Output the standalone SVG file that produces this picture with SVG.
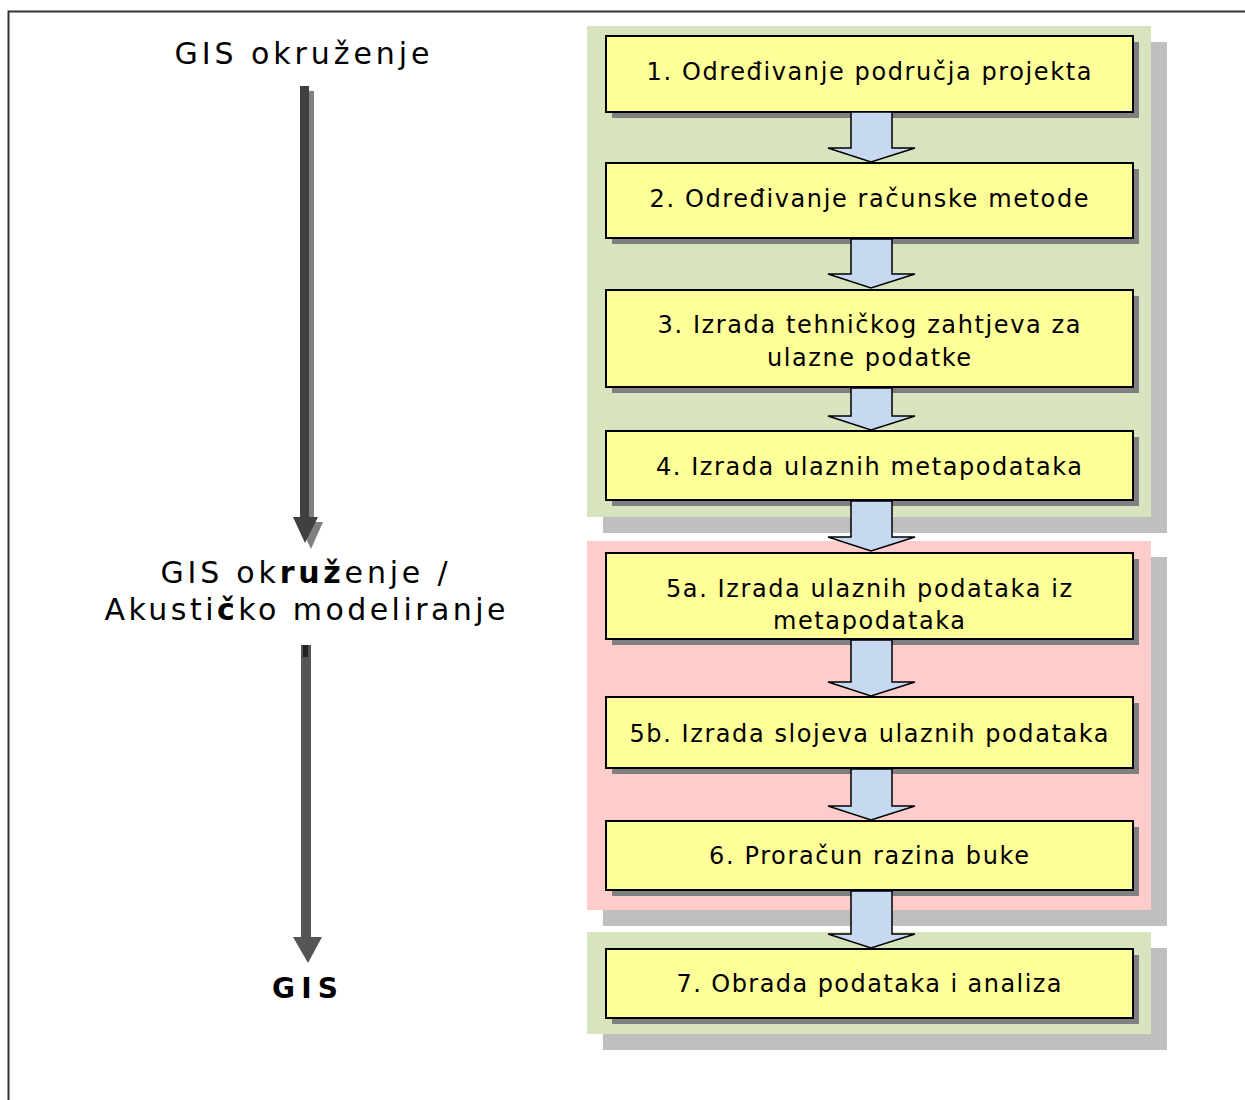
<svg xmlns="http://www.w3.org/2000/svg" width="1245" height="1100" viewBox="0 0 1245 1100">
<style>
.t{font-family:"DejaVu Sans","Verdana",sans-serif;font-size:24px;fill:#000;text-anchor:middle}
.l{font-family:"DejaVu Sans","Verdana",sans-serif;font-size:30px;fill:#000;text-anchor:middle}
.box{fill:#FFFF99;stroke:#000;stroke-width:2}
.bsh{fill:#808080}
.psh{fill:#BFBFBF}
.arr{fill:#C6D9F1;stroke:#000;stroke-width:1.5}
</style>
<rect width="1245" height="1100" fill="#fff"/>
<path d="M8.5 1100 V11.5 H1245" fill="none" stroke="#333" stroke-width="2"/>

<g id="left-labels">
<text class="l" x="302" y="64" textLength="255" lengthAdjust="spacing">GIS okruženje</text>
<text class="l" x="304" y="583" textLength="287" lengthAdjust="spacing">GIS ok<tspan font-weight="bold">ruž</tspan>enje /</text>
<text class="l" x="305" y="620" textLength="401" lengthAdjust="spacing">Akusti<tspan font-weight="bold">č</tspan>ko modeliranje</text>
<text x="305" y="998" font-family="DejaVu Sans,sans-serif" font-weight="bold" font-size="28" text-anchor="middle" textLength="66" lengthAdjust="spacing">GIS</text>
</g>

<g id="left-arrow-1">
<rect x="308" y="91" width="6" height="430" fill="#808080"/>
<polygon points="298,522 323,522 311,549" fill="#808080"/>
<rect x="300" y="86" width="9" height="432" fill="#404040"/>
<polygon points="293,517 318,517 305,543" fill="#404040"/>
</g>
<g id="left-arrow-2">
<rect x="301" y="645" width="10" height="295" fill="#555"/>
<rect x="303" y="645" width="5" height="12" fill="#222"/>
<polygon points="293,937 322,937 308,963" fill="#555"/>
</g>

<g id="panels">
<rect class="psh" x="603" y="42" width="564" height="491"/>
<rect x="587" y="26" width="564" height="491" fill="#D7E4BD"/>
<rect class="psh" x="603" y="557" width="564" height="369"/>
<rect x="587" y="541" width="564" height="369" fill="#FFCCCC"/>
<rect class="psh" x="603" y="948" width="564" height="102"/>
<rect x="587" y="932" width="564" height="102" fill="#D7E4BD"/>
</g>

<g id="node1"><rect class="bsh" x="612" y="42" width="527" height="76"/><rect class="box" x="606" y="36" width="527" height="76"/><text class="t" x="869" y="80" textLength="445" lengthAdjust="spacing">1. Određivanje područja projekta</text></g>
<g id="node2"><rect class="bsh" x="612" y="169" width="527" height="75"/><rect class="box" x="606" y="163" width="527" height="75"/><text class="t" x="869" y="207" textLength="439" lengthAdjust="spacing">2. Određivanje računske metode</text></g>
<g id="node3"><rect class="bsh" x="612" y="296" width="527" height="97"/><rect class="box" x="606" y="290" width="527" height="97"/><text class="t" x="869" y="333" textLength="423" lengthAdjust="spacing">3. Izrada tehničkog zahtjeva za</text><text class="t" x="869" y="366" textLength="204" lengthAdjust="spacing">ulazne podatke</text></g>
<g id="node4"><rect class="bsh" x="612" y="437" width="527" height="69"/><rect class="box" x="606" y="431" width="527" height="69"/><text class="t" x="869" y="475" textLength="426" lengthAdjust="spacing">4. Izrada ulaznih metapodataka</text></g>
<g id="node5a"><rect class="bsh" x="612" y="559" width="527" height="86"/><rect class="box" x="606" y="553" width="527" height="86"/><text class="t" x="869" y="597" textLength="406" lengthAdjust="spacing">5a. Izrada ulaznih podataka iz</text><text class="t" x="869" y="629" textLength="192" lengthAdjust="spacing">metapodataka</text></g>
<g id="node5b"><rect class="bsh" x="612" y="703" width="527" height="71"/><rect class="box" x="606" y="697" width="527" height="71"/><text class="t" x="869" y="742" textLength="479" lengthAdjust="spacing">5b. Izrada slojeva ulaznih podataka</text></g>
<g id="node6"><rect class="bsh" x="612" y="827" width="527" height="69"/><rect class="box" x="606" y="821" width="527" height="69"/><text class="t" x="869" y="864" textLength="320" lengthAdjust="spacing">6. Proračun razina buke</text></g>
<g id="node7"><rect class="bsh" x="612" y="955" width="527" height="69"/><rect class="box" x="606" y="949" width="527" height="69"/><text class="t" x="869" y="992" textLength="385" lengthAdjust="spacing">7. Obrada podataka i analiza</text></g>

<g id="connectors">
<polygon class="arr" points="851,112 892,112 892,148 915,148 871,162 828,148 851,148"/>
<polygon class="arr" points="851,239 892,239 892,274 915,274 871,288 828,274 851,274"/>
<polygon class="arr" points="851,388 892,388 892,416 915,416 871,430 828,416 851,416"/>
<polygon class="arr" points="851,501 892,501 892,537 915,537 871,551 828,537 851,537"/>
<polygon class="arr" points="851,640 892,640 892,682 915,682 871,696 828,682 851,682"/>
<polygon class="arr" points="851,769 892,769 892,806 915,806 871,820 828,806 851,806"/>
<polygon class="arr" points="851,891 892,891 892,934 915,934 871,948 828,934 851,934"/>
</g>
</svg>
